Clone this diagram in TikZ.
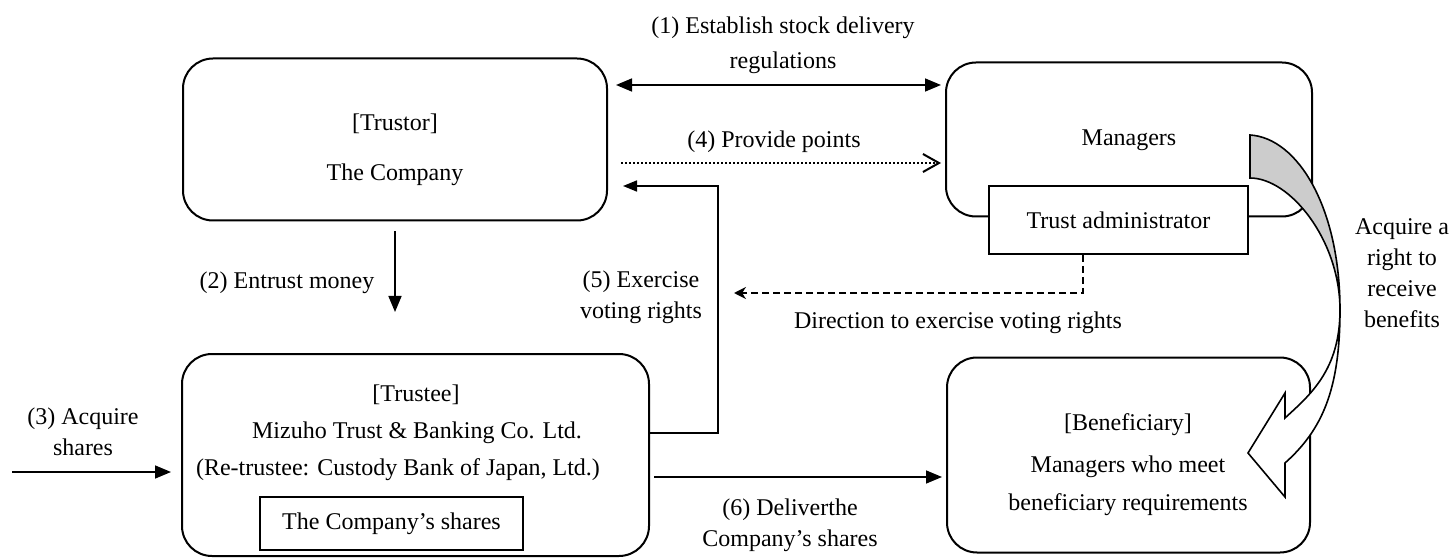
\documentclass[tikz,border=0pt]{standalone}
\usepackage{fontspec}
\setmainfont{Liberation Serif}
\usetikzlibrary{arrows.meta}

\tikzset{
  box/.style={draw, line width=1pt, rounded corners=15pt, inner sep=0pt},
  sbox/.style={draw, line width=1pt, fill=white, inner sep=0pt},
  conn/.style={line width=0.8pt},
  tri/.style={-{Triangle[length=8pt,width=6.5pt]}},
}

\begin{document}
\begin{tikzpicture}[x=0.5pt,y=0.5pt,font=\fontsize{12}{15.5}\selectfont]
  \useasboundingbox (0,0) rectangle (1453,558);

  % boxes
  \node[box, minimum width=212pt, minimum height=81pt] (trustor) at (395,418.5) {};
  \node[box, minimum width=183pt, minimum height=77pt] (managers) at (1129,418.5) {};
  \node[sbox, minimum width=129.5pt, minimum height=34pt] (admin) at (1118.5,338) {Trust administrator};
  \node[box, minimum width=233.5pt, minimum height=101pt] (trustee) at (415.5,103) {};
  \node[sbox, minimum width=131.5pt, minimum height=26.5pt] (shares) at (391.5,34.5) {The Company's shares};
  \node[box, minimum width=181.5pt, minimum height=97.5pt] (benef) at (1128.5,103) {};

  % texts in the boxes
  \node (trustorA) at (395,434) {[Trustor]};
  \node (trustorB) at (395,383) {The Company};
  \node (managersA) at (1129,418) {Managers};
  \node (trusteeA) at (416,163) {[Trustee]};
  \node (trusteeB) at (417,125) {Mizuho Trust \& Banking Co. Ltd.};
  \node (trusteeC) at (398,88) {(Re-trustee: Custody Bank of Japan, Ltd.)};
  \node (benefA) at (1128,133) {[Beneficiary]};
  \node (benefB) at (1128,91) {Managers who meet};
  \node (benefC) at (1128,53) {beneficiary requirements};

  % free ends
  \coordinate (c2) at (395,246);
  \coordinate (c3) at (12,86);
  \coordinate (c7) at (734,265);

  % connectors
  \draw[conn, {Triangle[length=8pt,width=6.5pt]}-{Triangle[length=8pt,width=6.5pt]}]
    ([xshift=4pt,yshift=27.25pt]trustor.east) -- ([xshift=-2pt,yshift=27.25pt]managers.west);
  \draw[conn, line width=1pt, dash pattern=on 1pt off 1pt, -{Straight Barb[length=8pt,width=9pt]}]
    ([xshift=6.5pt,yshift=-11.75pt]trustor.east) -- ([xshift=-2pt,yshift=-11.75pt]managers.west);
  \draw[conn, tri] ([yshift=-5pt]trustor.south) -- (c2);
  \draw[conn, tri] (c3) -- ([xshift=-5pt,yshift=-8.5pt]trustee.west);
  \draw[conn, -{Triangle[length=7pt,width=5.5pt]}]
    ([yshift=11pt]trustee.east) -- ++(68,0) |- ([xshift=7.5pt,yshift=-23.25pt]trustor.east);
  \draw[conn, tri] ([xshift=2pt,yshift=-11pt]trustee.east) -- ([xshift=-2pt,yshift=-11pt]benef.west);
  \draw[conn, dash pattern=on 3.5pt off 2pt, -{Stealth[length=6pt,width=6pt]}]
    ([xshift=-17.75pt]admin.south) |- (c7);

  % labels
  \node[align=center] (l1) at (783,513) {(1) Establish stock delivery\\[2pt]regulations};
  \node (l4) at (774,416) {(4) Provide points};
  \node (l2) at (287,275) {(2) Entrust money};
  \node[align=center] (l3) at (83,126) {(3) Acquire\\shares};
  \node[align=center] (l5) at (641,261) {(5) Exercise\\voting rights};
  \node (l7) at (958,235) {Direction to exercise voting rights};
  \node[align=center] (l6) at (790,33) {(6) Deliverthe\\Company's shares};
  \node[align=center] (l8) at (1402,284.5) {Acquire a\\right to\\receive\\benefits};

  % curved arrow
  \draw[line width=0.8pt, fill=black!20] (1250,423) .. controls (1298,420) and (1340,350) .. (1340,248)
    .. controls (1340,318) and (1290,380) .. (1250,380) -- cycle;
  \draw[line width=0.8pt, fill=white] (1340,248) .. controls (1340,188) and (1310,163) .. (1285,140)
    -- (1285,165) -- (1248,105) -- (1285,61) -- (1285,95)
    .. controls (1322,128) and (1340,168) .. (1340,248) -- cycle;
\end{tikzpicture}
\end{document}
